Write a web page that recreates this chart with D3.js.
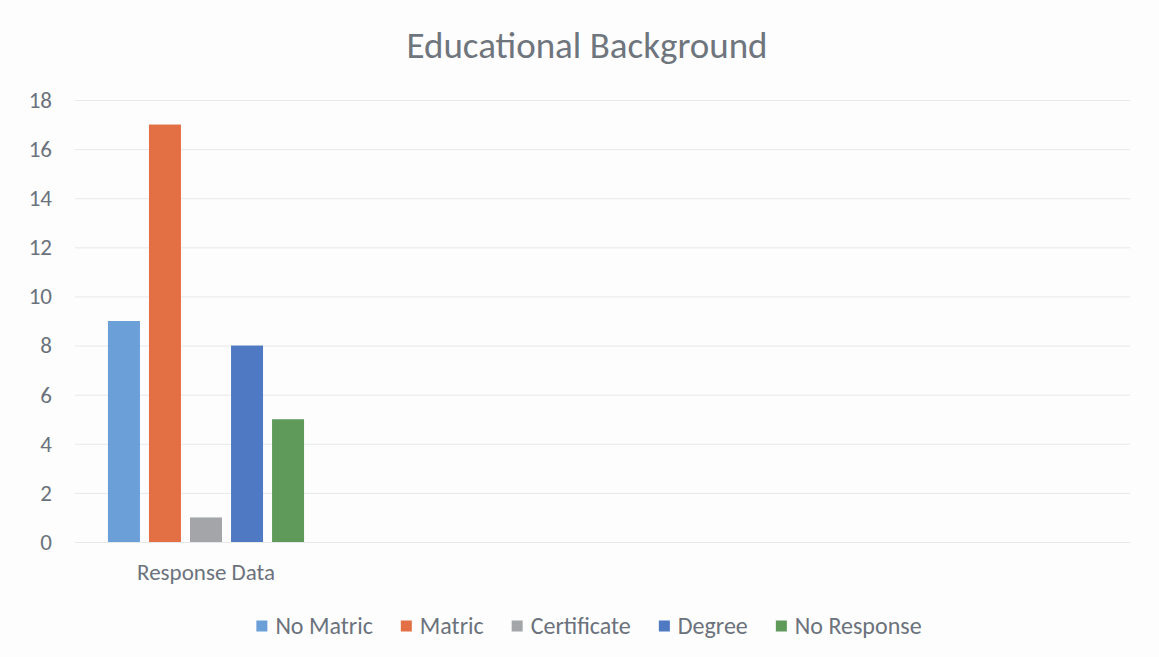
<!DOCTYPE html>
<html>
<head>
<meta charset="utf-8">
<script src="https://cdn.jsdelivr.net/npm/d3@7"></script>
<style>
  html, body { margin: 0; padding: 0; background: #ffffff; }
  svg { display: block; }
</style>
</head>
<body>
<svg id="chart" width="1159" height="657"></svg>
<script>
// Survey responses on educational background
const categories = ["Response Data"];
const seriesNames = ["No Matric", "Matric", "Certificate", "Degree", "No Response"];
const seriesValues = [9, 17, 1, 8, 5];
const yTicks = [0, 2, 4, 6, 8, 10, 12, 14, 16, 18];
const seriesColors = ["#6a9fd8", "#e36f45", "#a3a5a8", "#4f79c2", "#5f9a5b"];

const W = 1159, H = 657;
const font = "Carlito, Calibri, 'Open Sans', sans-serif";
const textColor = "#6b727c";

const svg = d3.select("#chart");
svg.append("rect").attr("width", W).attr("height", H).attr("fill", "#fdfdfd");

const plot = { left: 75, right: 1130, top: 100, bottom: 542 };

const y = d3.scaleLinear().domain([0, 18]).range([plot.bottom, plot.top]);
const x0 = d3.scaleBand().domain(categories).range([plot.left, 337]).paddingInner(0).paddingOuter(0.168);
const x1 = d3.scaleBand().domain(seriesNames).range([0, x0.bandwidth()]).paddingInner(0.22).paddingOuter(0);

// title
svg.append("text")
  .attr("x", 587).attr("y", 58)
  .attr("text-anchor", "middle")
  .attr("font-family", font).attr("font-size", 37)
  .attr("fill", "#6f757d")
  .text("Educational Background");

// gridlines
const yAxis = d3.axisLeft(y).tickValues(yTicks).tickSize(-(plot.right - plot.left)).tickFormat(d => d);
const gy = svg.append("g").attr("transform", `translate(${plot.left},0)`).call(yAxis);
gy.select(".domain").remove();
gy.selectAll(".tick line").attr("stroke", "#e6e8eb").attr("stroke-width", 1);
gy.selectAll(".tick text")
  .attr("x", -23)
  .attr("text-anchor", "end")
  .attr("font-family", font).attr("font-size", 23)
  .attr("fill", textColor);

// bars
const g = svg.append("g");
categories.forEach(cat => {
  g.selectAll("rect.bar")
    .data(seriesNames.map((s, i) => ({ s, v: seriesValues[i], c: seriesColors[i] })))
    .enter().append("rect")
    .attr("class", "bar")
    .attr("x", d => x0(cat) + x1(d.s))
    .attr("y", d => y(d.v))
    .attr("width", x1.bandwidth())
    .attr("height", d => y(0) - y(d.v))
    .attr("fill", d => d.c);
});

// category axis
const xAxis = d3.axisBottom(x0).tickSize(0);
const gx = svg.append("g").attr("transform", `translate(0,${plot.bottom})`).call(xAxis);
gx.select(".domain").remove();
gx.selectAll(".tick text")
  .attr("dy", 0).attr("y", 38)
  .attr("font-family", font).attr("font-size", 23)
  .attr("fill", textColor);

// legend
const legend = svg.append("g").attr("font-family", font).attr("font-size", 24);
const items = legend.selectAll("g.item").data(seriesNames).enter().append("g").attr("class", "item");
items.append("rect").attr("width", 11).attr("height", 11).attr("y", -5.5)
  .attr("fill", (d, i) => seriesColors[i]);
items.append("text").attr("x", 19).attr("y", 0).attr("dy", "0.33em")
  .attr("fill", textColor).text(d => d);
const widths = [];
items.each(function () { widths.push(this.getBBox().width); });
const gap = 28;
const total = d3.sum(widths) + gap * (seriesNames.length - 1);
let lx = 589 - total / 2;
items.each(function (d, i) {
  d3.select(this).attr("transform", `translate(${lx},626)`);
  lx += widths[i] + gap;
});
</script>
</body>
</html>
